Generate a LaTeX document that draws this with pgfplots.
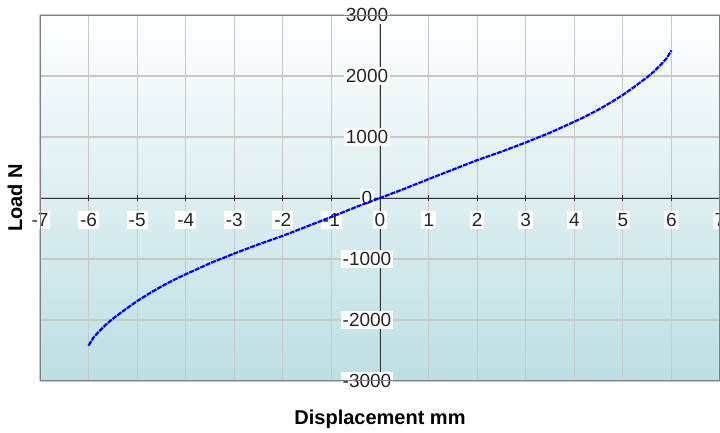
\documentclass[border=0pt]{standalone}
\usepackage{fontspec}
\setmainfont{Liberation Sans}
\usepackage{pgfplots}
\pgfplotsset{compat=1.18}
\definecolor{gridc}{RGB}{200,200,200}
\definecolor{framec}{RGB}{128,128,128}
\definecolor{bgtop}{RGB}{254,255,255}
\definecolor{bgmid}{RGB}{225,240,242}
\definecolor{bgbot}{RGB}{189,223,227}
\begin{document}
\begin{tikzpicture}
\begin{axis}[
  scale only axis,
  width=680pt, height=366pt,
  xmin=-7, xmax=7, ymin=-3000, ymax=3000,
  axis lines=middle,
  axis line style={black!80, line width=1pt, -},
  xtick={-7,-6,...,7},
  ytick={-3000,-2000,...,3000},
  hide obscured x ticks=false,
  hide obscured y ticks=false,
  grid=major,
  major grid style={gridc, line width=1.2pt},
  tick style={black!80, line width=0.8pt},
  major tick length=6pt,
  tick align=center,
  /pgf/number format/assume math mode=true,
  /pgf/number format/1000 sep={},
  tick label style={font=\fontsize{19}{22}\selectfont, fill=white, inner sep=2pt, text=black!85},
  xticklabel style={anchor=center, yshift=-19pt},
  yticklabel style={anchor=center, xshift=-10pt},
  axis background/.style={shade, top color=bgtop, middle color=bgmid, bottom color=bgbot},
  clip=true,
]
\draw[framec, line width=1.5pt] (rel axis cs:0,0) rectangle (rel axis cs:1,1);
\addplot[blue, line width=2.2pt, dash pattern=on 5pt off 1pt] coordinates {
(-6,-2420) (-5.9,-2290) (-5.8,-2200) (-5.65,-2080) (-5.5,-1980) (-5.25,-1830) (-5,-1690) (-4.75,-1565)
(-4.5,-1450) (-4.25,-1345) (-4,-1250) (-3.75,-1160) (-3.5,-1070) (-3.25,-990) (-3,-910)
(-2.5,-760) (-2,-620) (-1.5,-465) (-1,-310) (-0.5,-150) (0,0)
(0.5,150) (1,310) (1.5,465) (2,620) (2.5,760) (3,910) (3.25,990) (3.5,1070) (3.75,1160)
(4,1250) (4.25,1345) (4.5,1450) (4.75,1565) (5,1690) (5.25,1830) (5.5,1980) (5.65,2080)
(5.8,2200) (5.9,2290) (6,2420)
};
\end{axis}
\node[font=\bfseries\fontsize{20}{24}\selectfont, anchor=base] at (340pt,-44pt) {Displacement mm};
\node[font=\bfseries\fontsize{20}{24}\selectfont, rotate=90, anchor=center] at (-25pt,183pt) {Load N};
\pgfresetboundingbox
\path[use as bounding box] (-40pt,-52pt) rectangle (680pt,381pt);
\end{tikzpicture}
\end{document}
